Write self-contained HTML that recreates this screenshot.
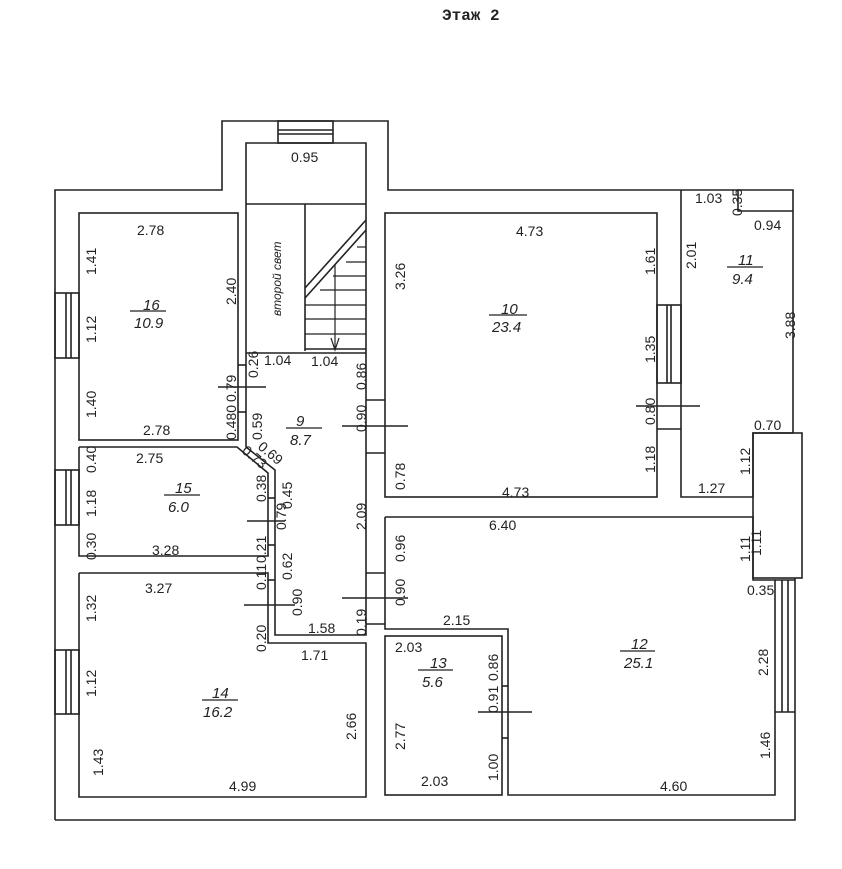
<!DOCTYPE html>
<html><head><meta charset="utf-8"><style>
html,body{margin:0;padding:0;background:#fff;}
svg{display:block;}
text{font-family:"Liberation Sans","DejaVu Sans",sans-serif;font-size:14px;fill:#222;}
.it{font-style:italic;font-size:15px;}
</style></head><body>
<svg width="842" height="869" viewBox="0 0 842 869" xmlns="http://www.w3.org/2000/svg">
<g stroke="#222" stroke-width="1.6" fill="none">
<polyline points="55,820 55,190 222,190 222,121 388,121 388,190 793,190 793,433"/>
<polyline points="795,578 795,820 55,820"/>
<rect x="278" y="121" width="55" height="22"/>
<line x1="278" y1="130" x2="333" y2="130"/><line x1="278" y1="134" x2="333" y2="134"/>
<polyline points="246,355 246,143 366,143 366,355"/>
<line x1="246" y1="204" x2="366" y2="204"/>
<line x1="305" y1="204" x2="305" y2="351"/>
<line x1="305" y1="349" x2="366" y2="349"/><line x1="246" y1="353" x2="366" y2="353"/>
<line x1="305" y1="288" x2="366" y2="220"/><line x1="305" y1="298" x2="366" y2="230"/>
<g stroke-width="1.2">
<line x1="357" y1="247" x2="366" y2="247"/><line x1="346" y1="262" x2="366" y2="262"/>
<line x1="333" y1="276" x2="366" y2="276"/><line x1="320" y1="290" x2="366" y2="290"/>
<line x1="305" y1="305" x2="366" y2="305"/><line x1="305" y1="319" x2="366" y2="319"/>
<line x1="305" y1="334" x2="366" y2="334"/>
<line x1="335" y1="265" x2="335" y2="350"/>
<polyline points="331,338 335,350 339,338"/>
</g>
<rect x="79" y="213" width="159" height="227"/>
<rect x="385" y="213" width="272" height="284"/>
<polyline points="681,190 681,497 753,497 753,433 793,433"/>
<polyline points="738,190 738,211 793,211"/>
<rect x="753" y="433" width="49" height="145"/>
<rect x="657" y="305" width="24" height="78"/>
<line x1="667" y1="305" x2="667" y2="383"/><line x1="671" y1="305" x2="671" y2="383"/>
<line x1="657" y1="429" x2="681" y2="429"/>
<line x1="636" y1="406" x2="700" y2="406"/>
<polyline points="79,447 237,447 268,473 268,556 79,556 79,447"/>
<polyline points="246,355 246,447 275,470 275,635 366,635 366,355"/>
<polyline points="79,573 268,573 268,643 366,643 366,797 79,797 79,573"/>
<polyline points="385,517 753,517 753,580 775,580 775,795 508,795 508,629 385,629 385,517"/>
<line x1="775" y1="580" x2="795" y2="580"/>
<line x1="782" y1="580" x2="782" y2="712"/><line x1="788" y1="580" x2="788" y2="712"/>
<line x1="775" y1="712" x2="795" y2="712"/>
<rect x="385" y="636" width="117" height="159"/>
<line x1="502" y1="686" x2="508" y2="686"/><line x1="502" y1="738" x2="508" y2="738"/>
<line x1="478" y1="712" x2="532" y2="712"/>
<rect x="55" y="293" width="24" height="65"/><line x1="66" y1="293" x2="66" y2="358"/><line x1="71" y1="293" x2="71" y2="358"/>
<rect x="55" y="470" width="24" height="55"/><line x1="66" y1="470" x2="66" y2="525"/><line x1="71" y1="470" x2="71" y2="525"/>
<rect x="55" y="650" width="24" height="64"/><line x1="66" y1="650" x2="66" y2="714"/><line x1="71" y1="650" x2="71" y2="714"/>
<line x1="238" y1="365" x2="246" y2="365"/><line x1="238" y1="412" x2="246" y2="412"/>
<line x1="218" y1="387" x2="266" y2="387"/>
<line x1="366" y1="400" x2="385" y2="400"/><line x1="366" y1="453" x2="385" y2="453"/>
<line x1="342" y1="426" x2="408" y2="426"/>
<line x1="268" y1="498" x2="275" y2="498"/><line x1="268" y1="545" x2="275" y2="545"/>
<line x1="247" y1="521" x2="285" y2="521"/>
<line x1="268" y1="580" x2="275" y2="580"/>
<line x1="244" y1="605" x2="295" y2="605"/>
<line x1="366" y1="573" x2="385" y2="573"/><line x1="366" y1="624" x2="385" y2="624"/>
<line x1="342" y1="598" x2="408" y2="598"/>
<g stroke-width="1.2">
<line x1="130" y1="311" x2="166" y2="311"/><line x1="489" y1="315" x2="527" y2="315"/>
<line x1="727" y1="267" x2="763" y2="267"/><line x1="286" y1="428" x2="322" y2="428"/>
<line x1="164" y1="495" x2="200" y2="495"/><line x1="202" y1="700" x2="238" y2="700"/>
<line x1="418" y1="670" x2="453" y2="670"/><line x1="620" y1="651" x2="655" y2="651"/>
</g>
</g>
<text x="442" y="20" style="font-family:'Liberation Mono',monospace;font-weight:bold;font-size:16px">Этаж 2</text>
<text class="it" x="143" y="310">16</text><text class="it" x="134" y="328">10.9</text>
<text class="it" x="501" y="314">10</text><text class="it" x="492" y="332">23.4</text>
<text class="it" x="738" y="265">11</text><text class="it" x="732" y="284">9.4</text>
<text class="it" x="296" y="426">9</text><text class="it" x="290" y="445">8.7</text>
<text class="it" x="175" y="493">15</text><text class="it" x="168" y="512">6.0</text>
<text class="it" x="212" y="698">14</text><text class="it" x="203" y="717">16.2</text>
<text class="it" x="430" y="668">13</text><text class="it" x="422" y="687">5.6</text>
<text class="it" x="631" y="649">12</text><text class="it" x="624" y="668">25.1</text>
<text x="291" y="162">0.95</text>
<text x="137" y="235">2.78</text><text x="143" y="435">2.78</text>
<text x="264" y="365">1.04</text><text x="311" y="366">1.04</text>
<text x="516" y="236">4.73</text><text x="502" y="497">4.73</text>
<text x="695" y="203">1.03</text><text x="754" y="230">0.94</text>
<text x="754" y="430">0.70</text><text x="698" y="493">1.27</text>
<text x="136" y="463">2.75</text><text x="152" y="555">3.28</text>
<text x="145" y="593">3.27</text>
<text x="308" y="633">1.58</text><text x="301" y="660">1.71</text>
<text x="229" y="791">4.99</text>
<text x="489" y="530">6.40</text><text x="443" y="625">2.15</text>
<text x="395" y="652">2.03</text><text x="421" y="786">2.03</text>
<text x="660" y="791">4.60</text><text x="747" y="595">0.35</text>
<g>
<text transform="translate(96,275) rotate(-90)">1.41</text>
<text transform="translate(96,343) rotate(-90)">1.12</text>
<text transform="translate(96,418) rotate(-90)">1.40</text>
<text transform="translate(236,305) rotate(-90)">2.40</text>
<text transform="translate(258,378) rotate(-90)">0.26</text>
<text transform="translate(236,402) rotate(-90)">0.79</text>
<text transform="translate(236,440) rotate(-90)">0.480</text>
<text transform="translate(262,440) rotate(-90)">0.59</text>
<text transform="translate(405,290) rotate(-90)">3.26</text>
<text transform="translate(405,490) rotate(-90)">0.78</text>
<text transform="translate(366,390) rotate(-90)">0.86</text>
<text transform="translate(366,432) rotate(-90)">0.90</text>
<text transform="translate(366,530) rotate(-90)">2.09</text>
<text transform="translate(655,275) rotate(-90)">1.61</text>
<text transform="translate(655,363) rotate(-90)">1.35</text>
<text transform="translate(655,425) rotate(-90)">0.80</text>
<text transform="translate(655,473) rotate(-90)">1.18</text>
<text transform="translate(696,269) rotate(-90)">2.01</text>
<text transform="translate(742,216) rotate(-90)">0.35</text>
<text transform="translate(795,339) rotate(-90)">3.88</text>
<text transform="translate(750,475) rotate(-90)">1.12</text>
<text transform="translate(750,562) rotate(-90)">1.11</text>
<text transform="translate(96,473) rotate(-90)">0.40</text>
<text transform="translate(96,517) rotate(-90)">1.18</text>
<text transform="translate(96,560) rotate(-90)">0.30</text>
<text transform="translate(266,502) rotate(-90)">0.38</text>
<text transform="translate(292,509) rotate(-90)">0.45</text>
<text transform="translate(286,530) rotate(-90)">0.79</text>
<text transform="translate(266,563) rotate(-90)">0.21</text>
<text transform="translate(266,590) rotate(-90)">0.11</text>
<text transform="translate(292,580) rotate(-90)">0.62</text>
<text transform="translate(302,616) rotate(-90)">0.90</text>
<text transform="translate(266,652) rotate(-90)">0.20</text>
<text transform="translate(366,636) rotate(-90)">0.19</text>
<text transform="translate(405,562) rotate(-90)">0.96</text>
<text transform="translate(405,606) rotate(-90)">0.90</text>
<text transform="translate(96,622) rotate(-90)">1.32</text>
<text transform="translate(96,697) rotate(-90)">1.12</text>
<text transform="translate(103,776) rotate(-90)">1.43</text>
<text transform="translate(356,740) rotate(-90)">2.66</text>
<text transform="translate(405,750) rotate(-90)">2.77</text>
<text transform="translate(498,681) rotate(-90)">0.86</text>
<text transform="translate(498,713) rotate(-90)">0.91</text>
<text transform="translate(498,781) rotate(-90)">1.00</text>
<text transform="translate(768,676) rotate(-90)">2.28</text>
<text transform="translate(770,759) rotate(-90)">1.46</text>
<text transform="translate(761,556) rotate(-90)">1.11</text>
</g>
<text transform="translate(241,452) rotate(40)">0.73</text>
<text transform="translate(257,448) rotate(40)">0.69</text>
<text transform="translate(281,316) rotate(-90)" class="it" style="font-size:12px">второй свет</text>
</svg>
</body></html>
